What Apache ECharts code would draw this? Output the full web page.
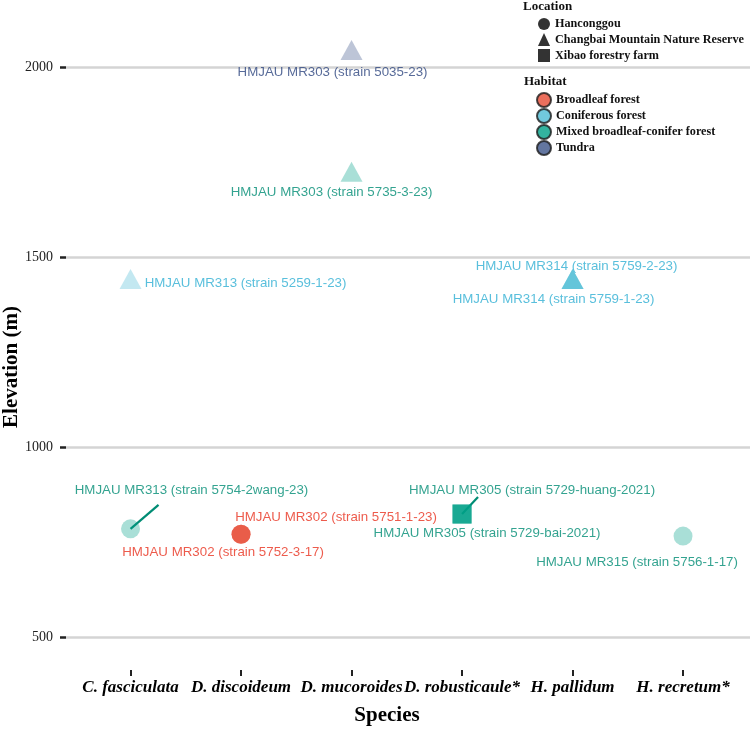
<!DOCTYPE html>
<html>
<head>
<meta charset="utf-8">
<script src="https://cdn.jsdelivr.net/npm/echarts@6/dist/echarts.min.js"></script>
<style>html,body{margin:0;padding:0;background:#fff}#chart{width:750px;height:730px}</style>
</head>
<body>
<div id="chart"></div>
<script>
// ---- data ----
const species = ['C. fasciculata', 'D. discoideum', 'D. mucoroides', 'D. robusticaule*', 'H. pallidum', 'H. recretum*'];
const yTicks = [500, 1000, 1500, 2000];
const locations = ['Hanconggou', 'Changbai Mountain Nature Reserve', 'Xibao forestry farm'];
const habitats = ['Broadleaf forest', 'Coniferous forest', 'Mixed broadleaf-conifer forest', 'Tundra'];

const strainLabels = [
  'HMJAU MR303 (strain 5035-23)',
  'HMJAU MR303 (strain 5735-3-23)',
  'HMJAU MR313 (strain 5259-1-23)',
  'HMJAU MR314 (strain 5759-2-23)',
  'HMJAU MR314 (strain 5759-1-23)',
  'HMJAU MR313 (strain 5754-2wang-23)',
  'HMJAU MR302 (strain 5751-1-23)',
  'HMJAU MR302 (strain 5752-3-17)',
  'HMJAU MR305 (strain 5729-huang-2021)',
  'HMJAU MR305 (strain 5729-bai-2021)',
  'HMJAU MR315 (strain 5756-1-17)'
];
const strainSpecies = ['D. mucoroides', 'D. mucoroides', 'C. fasciculata', 'H. pallidum', 'H. pallidum',
  'C. fasciculata', 'D. discoideum', 'D. discoideum', 'D. robusticaule*', 'D. robusticaule*', 'H. recretum*'];
const strainElevation = [2045, 1725, 1443, 1443, 1443, 786, 772, 772, 825, 825, 767];
const strainLocation = ['Changbai Mountain Nature Reserve', 'Changbai Mountain Nature Reserve',
  'Changbai Mountain Nature Reserve', 'Changbai Mountain Nature Reserve', 'Changbai Mountain Nature Reserve',
  'Hanconggou', 'Hanconggou', 'Hanconggou', 'Xibao forestry farm', 'Xibao forestry farm', 'Hanconggou'];
const strainHabitat = ['Tundra', 'Mixed broadleaf-conifer forest', 'Coniferous forest', 'Coniferous forest',
  'Coniferous forest', 'Mixed broadleaf-conifer forest', 'Broadleaf forest', 'Broadleaf forest',
  'Mixed broadleaf-conifer forest', 'Mixed broadleaf-conifer forest', 'Mixed broadleaf-conifer forest'];

// ---- styles / layout (not data) ----
const habitatColors = {
  'Broadleaf forest': '#E64B35',
  'Coniferous forest': '#4DBBD5',
  'Mixed broadleaf-conifer forest': '#00A087',
  'Tundra': '#3C5488'
};
const labelColors = {
  'Broadleaf forest': '#E8321F',
  'Coniferous forest': '#2FAFD3',
  'Mixed broadleaf-conifer forest': '#008C74',
  'Tundra': '#2E4680'
};
const locationSymbols = {
  'Hanconggou': 'circle',
  'Changbai Mountain Nature Reserve': 'triangle',
  'Xibao forestry farm': 'rect'
};
const locationSizes = {
  'Hanconggou': 19,
  'Changbai Mountain Nature Reserve': [22, 20],
  'Xibao forestry farm': 19
};
const pointAlpha = [0.42, 0.42, 0.42, 0.8, 0.8, 0.42, 0.85, 0.85, 0.85, 0.85, 0.42];
const labelShift = [[-19, 22], [-20, 21], [115, 4], [4, -13], [-19, 20], [61, -39], [95, -17], [-18, 18], [70, -24], [25, 19], [-46, 26]];
// guide segments: from the point toward its moved label (end offset, px, relative to the point)
const guideIdx = [5, 8];
const guideEnd = [[28, -24], [16, -17]];

const serif = 'Liberation Serif';

function rgba(hex, a) {
  const n = parseInt(hex.slice(1), 16);
  return 'rgba(' + ((n >> 16) & 255) + ',' + ((n >> 8) & 255) + ',' + (n & 255) + ',' + a + ')';
}

const pointData = strainLabels.map((name, i) => ({
  name: name,
  value: [species.indexOf(strainSpecies[i]), strainElevation[i]],
  symbol: locationSymbols[strainLocation[i]],
  symbolSize: locationSizes[strainLocation[i]],
  itemStyle: { color: rgba(habitatColors[strainHabitat[i]], pointAlpha[i]) },
  label: { color: labelColors[strainHabitat[i]] }
}));

const guideData = guideIdx.map((k, j) => [species.indexOf(strainSpecies[k]), strainElevation[k], j, k]);

const legendLocSeries = locations.map(n => ({
  name: n, type: 'scatter', data: [], symbol: locationSymbols[n],
  itemStyle: { color: '#000' }
}));
const legendHabSeries = habitats.map(n => ({
  name: n, type: 'scatter', data: [], symbol: 'circle',
  itemStyle: { color: habitatColors[n], borderColor: '#1a1a1a', borderWidth: 1 }
}));

const chart = echarts.init(document.getElementById('chart'), null, { renderer: 'canvas' });
chart.setOption({
  animation: false,
  backgroundColor: '#fff',
  grid: { left: 66, right: 0, top: 10, bottom: 60, containLabel: false },
  xAxis: {
    type: 'value',
    min: -0.584,
    max: 5.606,
    axisLine: { show: false, onZero: false },
    splitLine: { show: false },
    axisTick: { show: true, customValues: species.map((s, i) => i), length: 6, lineStyle: { color: '#222', width: 2 } },
    axisLabel: {
      customValues: species.map((s, i) => i),
      formatter: v => species[Math.round(v)],
      fontFamily: serif, fontStyle: 'italic', fontWeight: 'bold', fontSize: 17, color: '#000', margin: 9
    }
  },
  yAxis: {
    type: 'value',
    min: 415,
    max: 2150,
    axisLine: { show: false, onZero: false },
    axisTick: { show: true, customValues: yTicks, length: 6, lineStyle: { color: '#222', width: 2.5 } },
    axisLabel: { customValues: yTicks, formatter: v => String(v), fontFamily: serif, fontSize: 14, color: '#222', margin: 13 },
    splitLine: { show: true, lineStyle: { color: '#d4d4d4', width: 2.5 } }
  },
  legend: [
    {
      data: locations.map(n => ({ name: n, icon: locationSymbols[n] })),
      orient: 'vertical', left: 538, top: 18, padding: 0, itemWidth: 12, itemHeight: 13, itemGap: 3,
      selectedMode: false,
      textStyle: { fontFamily: serif, fontWeight: 'bold', fontSize: 12.2, color: '#111' }
    },
    {
      data: habitats.map(n => ({ name: n, icon: 'circle' })),
      orient: 'vertical', left: 536, top: 92, padding: 0, itemWidth: 14, itemHeight: 14, itemGap: 0,
      selectedMode: false,
      textStyle: { fontFamily: serif, fontWeight: 'bold', fontSize: 12.2, color: '#111' }
    }
  ],
  graphic: [
    { type: 'text', left: 523, top: 0, style: { text: 'Location', font: 'bold 13px "Liberation Serif"', fill: '#111' } },
    { type: 'text', left: 524, top: 75, style: { text: 'Habitat', font: 'bold 13px "Liberation Serif"', fill: '#111' } },
    { type: 'text', x: 12, y: 367, rotation: Math.PI / 2,
      style: { text: 'Elevation (m)', font: 'bold 21px "Liberation Serif"', fill: '#000', align: 'center', verticalAlign: 'middle' } },
    { type: 'text', x: 387, y: 716,
      style: { text: 'Species', font: 'bold 21px "Liberation Serif"', fill: '#000', align: 'center', verticalAlign: 'middle' } }
  ],
  series: [
    ...legendLocSeries,
    ...legendHabSeries,
    {
      name: 'guides',
      type: 'custom',
      data: guideData,
      z: 2,
      silent: true,
      renderItem: (params, api) => {
        const p = api.coord([api.value(0), api.value(1)]);
        const e = guideEnd[api.value(2)];
        const k = api.value(3);
        return {
          type: 'line',
          shape: { x1: p[0], y1: p[1], x2: p[0] + e[0], y2: p[1] + e[1] },
          style: { stroke: labelColors[strainHabitat[k]], lineWidth: 2.2 }
        };
      }
    },
    {
      name: 'strains',
      type: 'scatter',
      data: pointData,
      label: {
        show: true,
        position: 'inside',
        formatter: p => p.name,
        fontFamily: 'Liberation Sans',
        fontSize: 13.3
      },
      labelLayout: p => ({ dx: labelShift[p.dataIndex][0], dy: labelShift[p.dataIndex][1] }),
      emphasis: { disabled: true },
      z: 3
    }
  ]
});
</script>
</body>
</html>
